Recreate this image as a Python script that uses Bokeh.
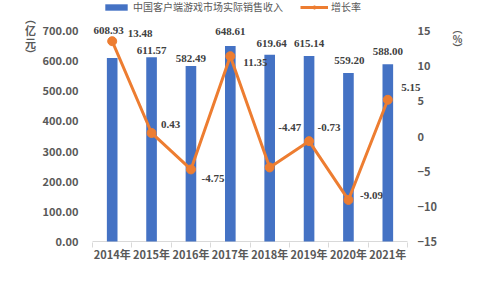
from bokeh.plotting import figure
from bokeh.models import (Range1d, LinearAxis, FixedTicker, ColumnDataSource,
                          LabelSet, Label, Legend, LegendItem)
from bokeh.embed import file_html
from bokeh.resources import INLINE

# ---- data ----
years = ["2014年", "2015年", "2016年", "2017年", "2018年", "2019年", "2020年", "2021年"]
revenue = [608.93, 611.57, 582.49, 648.61, 619.64, 615.14, 559.20, 588.00]
growth = [13.48, 0.43, -4.75, 11.35, -4.47, -0.73, -9.09, 5.15]
revenue_ticks = [0, 100, 200, 300, 400, 500, 600, 700]
growth_ticks = [-15, -10, -5, 0, 5, 10, 15]
series_names = ["中国客户端游戏市场实际销售收入", "增长率"]
left_title = ["︵", "亿", "元", "︶"]
right_title = ["︵", "%", "︶"]

# label nudges in screen pixels (style only): right/up
rev_dx = [-3.5, 0, 0, 0, 2, 0, 1, 0]
rev_dy = [27.5, 7, 7.5, 14.5, 11, 12.5, 12.5, 13]
gr_dx = [28, 19, 22, 25, 20, 20, 23, 23]
gr_dy = [8, 8.5, -9, -6, 40, 13.5, 4.5, 12]

FONT = "Noto Sans CJK SC"
BLUE = "#4472C4"
ORANGE = "#ED7D31"
TICK = "#595959"
DLBL = "#404040"

# ---- geometry (pixels) ----
W, H = 480, 300
F_LEFT, F_RIGHT, F_TOP, F_BOTTOM = 20, 470, 0, 242   # plotting frame
CAT_LEFT = 92            # left edge of first category
ZERO_Y, TOP_Y = 241, 30  # pixel rows of the lowest / highest tick
CAT_PX = 39.375          # width of one category

n = len(years)
ppu_left = (ZERO_Y - TOP_Y) / (revenue_ticks[-1] - revenue_ticks[0])
ppu_right = (ZERO_Y - TOP_Y) / (growth_ticks[-1] - growth_ticks[0])
y_left = (revenue_ticks[0] - (F_BOTTOM - ZERO_Y) / ppu_left,
          revenue_ticks[0] + (ZERO_Y - F_TOP) / ppu_left)
y_right = (growth_ticks[0] - (F_BOTTOM - ZERO_Y) / ppu_right,
           growth_ticks[0] + (ZERO_Y - F_TOP) / ppu_right)
x_rng = (-(CAT_LEFT - F_LEFT) / CAT_PX, (F_RIGHT - CAT_LEFT) / CAT_PX)

xs = [i + 0.5 for i in range(n)]
src = ColumnDataSource(dict(
    x=xs, rev=revenue, gr=growth,
    rev_lx=[x + dx / CAT_PX for x, dx in zip(xs, rev_dx)],
    rev_ly=[v + dy / ppu_left for v, dy in zip(revenue, rev_dy)],
    gr_lx=[x + dx / CAT_PX for x, dx in zip(xs, gr_dx)],
    gr_ly=[v + dy / ppu_right for v, dy in zip(growth, gr_dy)],
    rev_txt=["%.2f" % v for v in revenue],
    gr_txt=["%.2f" % v for v in growth],
))

p = figure(width=W, height=H, output_backend="svg", toolbar_location=None,
           x_range=Range1d(*x_rng), y_range=Range1d(*y_left),
           min_border_left=F_LEFT, min_border_right=W - F_RIGHT,
           min_border_top=F_TOP, min_border_bottom=H - F_BOTTOM,
           background_fill_color="white", border_fill_color="white")
p.outline_line_color = None
p.grid.visible = False
p.extra_y_ranges = {"g": Range1d(*y_right)}

ly = p.yaxis[0]
ly.ticker = FixedTicker(ticks=revenue_ticks)
ly.major_label_overrides = {t: "%.2f" % t for t in revenue_ticks}
ly.axis_line_color = None
ly.major_tick_line_color = None
ly.minor_tick_line_color = None
ly.major_tick_out = 0
ly.major_label_standoff = F_LEFT - 78
ly.major_label_text_font = FONT
ly.major_label_text_font_size = "11px"
ly.major_label_text_font_style = "bold"
ly.major_label_text_color = TICK

ry = LinearAxis(y_range_name="g", ticker=FixedTicker(ticks=growth_ticks),
                axis_line_color=None, major_tick_line_color=None, minor_tick_line_color=None,
                major_tick_out=0, major_label_standoff=417 - F_RIGHT, major_label_text_font=FONT,
                major_label_text_font_size="11px", major_label_text_font_style="bold",
                major_label_text_color=TICK)
p.add_layout(ry, "right")

bx = p.xaxis[0]
bx.ticker = FixedTicker(ticks=xs, minor_ticks=list(range(n + 1)))
bx.major_label_overrides = {x: y for x, y in zip(xs, years)}
bx.major_tick_line_color = None
bx.major_tick_out = 0
bx.minor_tick_line_color = "#d9d9d9"
bx.minor_tick_in = 0
bx.minor_tick_out = 5
bx.axis_line_color = None
bx.major_label_standoff = -2
bx.major_label_text_font = FONT
bx.major_label_text_font_size = "11px"
bx.major_label_text_font_style = "bold"
bx.major_label_text_color = TICK

# category baseline (x axis line) spanning the categories only
p.segment(x0=[0], y0=[revenue_ticks[0]], x1=[n], y1=[revenue_ticks[0]],
          line_color="#d9d9d9", line_width=1)

bars = p.vbar(x="x", top="rev", width=0.27, source=src, fill_color=BLUE, line_color=None)
ln = p.line(x="x", y="gr", y_range_name="g", source=src, line_color=ORANGE, line_width=3)
pts = p.scatter(x="x", y="gr", y_range_name="g", source=src, size=9,
                fill_color=ORANGE, line_color=ORANGE)

p.add_layout(LabelSet(x="rev_lx", y="rev_ly", text="rev_txt", source=src,
                      text_align="center", text_baseline="middle", text_font=FONT,
                      text_font_size="11px", text_font_style="bold", text_color=DLBL))
p.add_layout(LabelSet(x="gr_lx", y="gr_ly", y_range_name="g", text="gr_txt", source=src,
                      text_align="center", text_baseline="middle", text_font=FONT,
                      text_font_size="11px", text_font_style="bold", text_color=DLBL))

legend = Legend(items=[LegendItem(label=series_names[0], renderers=[bars]),
                       LegendItem(label=series_names[1], renderers=[ln, pts])],
                orientation="horizontal", location=(82, 228),
                label_text_font=FONT, label_text_font_size="10px", label_text_color=TICK,
                glyph_width=28, glyph_height=8, padding=0, margin=0, spacing=17,
                label_standoff=3, border_line_color=None, background_fill_alpha=0)
p.add_layout(legend, "center")

# vertical axis titles (stacked characters), frame-relative screen units
for ch, cy in zip(left_title, [17.5, 29.5, 42.5, 53]):
    p.add_layout(Label(x=30 - F_LEFT, y=F_BOTTOM - cy, x_units="screen", y_units="screen",
                       text=ch, text_align="center", text_baseline="middle", text_font=FONT,
                       text_font_size="11px", text_font_style="bold", text_color=TICK))
for ch, cy in zip(right_title, [28, 37.5, 47]):
    p.add_layout(Label(x=457 - F_LEFT, y=F_BOTTOM - cy, x_units="screen", y_units="screen",
                       text=ch, text_align="center", text_baseline="middle", text_font=FONT,
                       text_font_size="10px", text_font_style="bold", text_color=TICK))

open("out.html", "w").write(file_html(p, INLINE))
